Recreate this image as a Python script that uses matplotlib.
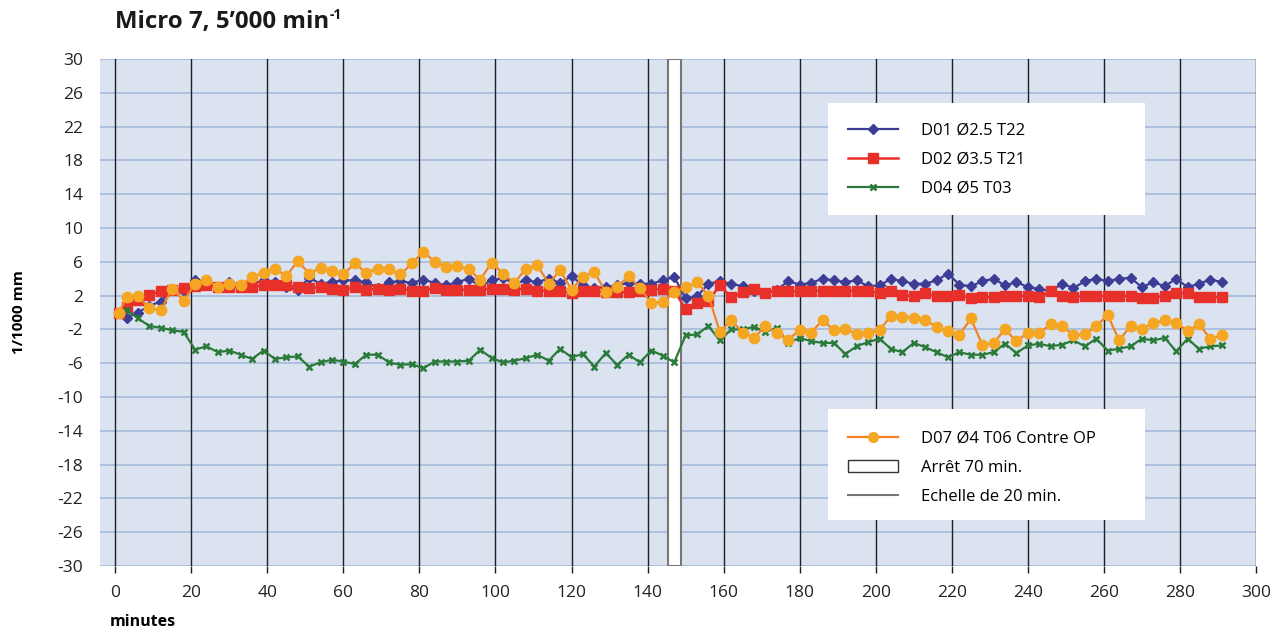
import matplotlib
matplotlib.use('Agg')
import matplotlib.pyplot as plt
from matplotlib.lines import Line2D
from matplotlib.patches import Rectangle

plt.rcParams['font.family'] = ['Open Sans', 'DejaVu Sans']
plt.rcParams['axes.unicode_minus'] = False

# temps de mesure (minutes)
minutes = [1] + list(range(3, 292, 3))

# valeurs (1/1000 mm)
d01 = [0.0, -0.6, 0.0, 0.8, 1.3, 2.7, 2.5, 3.9, 3.4, 3.0, 3.6, 3.0, 3.4, 3.8, 3.6, 3.0, 2.7, 4.1, 3.4, 3.6, 3.8, 3.8,
       3.6, 2.9, 3.6, 3.7, 3.5, 3.9, 3.5, 3.2, 3.6, 4.0, 3.1, 3.8, 4.1, 3.4, 3.8, 3.6, 4.0, 3.5, 4.3, 3.2, 2.9,
       3.0, 3.2, 3.5, 3.4, 3.4, 3.8, 4.2, 1.7, 1.9, 3.4, 3.7, 3.4, 3.1, 2.5, 2.3, 2.7, 3.7, 3.3, 3.5, 4.0, 3.8, 3.6,
       3.8, 3.1, 3.2, 4.0, 3.7, 3.4, 3.4, 3.8, 4.6, 3.3, 3.1, 3.7, 4.0, 3.2, 3.6, 3.0, 2.8, 2.5, 3.4,
       2.9, 3.7, 4.0, 3.7, 4.0, 4.1, 3.0, 3.6, 3.1, 4.0, 3.0, 3.4, 3.9, 3.6]
d02 = [0.0, 0.7, 1.5, 2.1, 2.5, 2.7, 2.9, 3.1, 3.2, 3.0, 3.0, 3.0, 3.0, 3.2, 3.2, 3.2, 3.0, 2.9, 3.0, 2.8, 2.7, 3.0,
       2.7, 2.8, 2.7, 2.8, 2.6, 2.6, 2.9, 2.7, 2.7, 2.7, 2.7, 2.8, 2.8, 2.7, 2.8, 2.6, 2.6, 2.6, 2.3, 2.5, 2.5,
       2.4, 2.4, 2.4, 2.6, 2.7, 2.8, 2.6, 0.4, 1.1, 1.4, 3.2, 1.8, 2.4, 2.8, 2.3, 2.6, 2.5, 2.5, 2.5, 2.6, 2.6, 2.6,
       2.5, 2.5, 2.3, 2.5, 2.1, 1.9, 2.3, 1.9, 2.0, 2.1, 1.7, 1.8, 1.8, 1.9, 2.0, 1.9, 1.8, 2.5, 2.0,
       1.8, 2.0, 2.0, 1.9, 1.9, 2.0, 1.7, 1.7, 2.0, 2.3, 2.3, 1.8, 1.8, 1.8]
d04 = [0.0, 0.3, -0.7, -1.6, -1.8, -2.1, -2.3, -4.4, -4.0, -4.7, -4.5, -5.0, -5.5, -4.5, -5.5, -5.3, -5.2, -6.4, -5.9, -5.6, -5.8, -6.1,
       -5.0, -5.0, -5.9, -6.2, -6.1, -6.6, -5.8, -5.8, -5.8, -5.7, -4.4, -5.4, -5.9, -5.7, -5.4, -5.0, -5.7, -4.3, -5.3, -4.9, -6.4,
       -4.8, -6.2, -5.0, -5.9, -4.5, -5.1, -5.9, -2.7, -2.6, -1.6, -3.3, -2.0, -2.0, -1.7, -2.3, -1.8, -3.6, -3.0, -3.4, -3.6, -3.6, -4.9,
       -4.0, -3.5, -3.1, -4.3, -4.7, -3.6, -4.1, -4.7, -5.3, -4.7, -5.0, -5.0, -4.7, -3.7, -4.8, -3.9, -3.7, -4.0, -3.8,
       -3.3, -4.0, -3.1, -4.5, -4.3, -4.0, -3.1, -3.3, -3.0, -4.6, -3.1, -4.3, -4.0, -3.9]
d07 = [0.0, 1.8, 1.9, 0.5, 0.3, 2.8, 1.4, 3.4, 3.9, 3.0, 3.4, 3.2, 4.2, 4.7, 5.2, 4.3, 6.1, 4.6, 5.3, 4.9, 4.5, 5.8,
       4.7, 5.2, 5.1, 4.5, 5.8, 7.2, 6.0, 5.4, 5.5, 5.1, 3.9, 5.9, 4.6, 3.5, 5.2, 5.6, 3.4, 5.0, 2.7, 4.2, 4.8,
       2.4, 3.0, 4.3, 2.9, 1.1, 1.3, 2.4, 3.0, 3.6, 2.0, -2.3, -0.9, -2.4, -3.0, -1.6, -2.4, -3.2, -2.1, -2.4, -0.9, -2.1, -2.0,
       -2.5, -2.4, -2.1, -0.4, -0.5, -0.6, -0.9, -1.7, -2.2, -2.7, -0.7, -3.8, -3.6, -2.0, -3.4, -2.4, -2.4, -1.4, -1.6,
       -2.7, -2.6, -1.6, -0.3, -3.3, -1.6, -1.9, -1.3, -0.9, -1.2, -2.2, -1.4, -3.1, -2.7]

labels = ['D01 Ø2.5 T22', 'D02 Ø3.5 T21', 'D04 Ø5 T03', 'D07 Ø4 T06 Contre OP']
arret = (145.5, 148.7)
x_ticks = list(range(0, 301, 20))
y_ticks = list(range(-30, 31, 4))

W, H = 1287, 635
fig = plt.figure(figsize=(W / 100, H / 100), dpi=100)
ax = fig.add_axes([100 / W, 69 / H, 1156 / W, 507 / H])
ax.set_facecolor('#dce3f0')
ax.set_xlim(-4, 300)
ax.set_ylim(-30, 30)

# grille
for y in y_ticks:
    ax.axhline(y, color='#a9bddb', lw=1.3, zorder=1)
for x in x_ticks:
    ax.axvline(x, color='#1e1e1e', lw=1, zorder=1.5)
ax.axvspan(arret[0], arret[1], facecolor='white', edgecolor='#777777', lw=1.5, zorder=1.6)

# séries
ax.plot(minutes, d01, color='#3d3d96', lw=1.6, marker='D', ms=4.8, zorder=3)
ax.plot(minutes, d02, color='#e8302a', lw=1.8, marker='s', ms=6.5, zorder=4)
ax.plot(minutes, d04, color='#2a7a3a', lw=1.6, marker='x', ms=5, mew=1.8, zorder=5)
ax.plot(minutes, d07, color='#f0822a', lw=1.6, marker='o', ms=7.5, mfc='#f5a623', mec='#f5a623', zorder=6)

for s in ax.spines.values():
    s.set_visible(False)
ax.set_xticks(x_ticks)
ax.set_yticks(y_ticks)
ax.tick_params(axis='x', length=5, width=1, color='#1e1e1e', pad=9, labelsize=12.5, labelcolor='#222222')
ax.tick_params(axis='y', length=0, pad=12, labelsize=12.5, labelcolor='#222222')

# textes
title = fig.text(115 / W, 1 - 22 / H, 'Micro 7, 5’000 min', fontsize=17.3, fontweight='bold',
                 va='center', color='#1a1a1a')
fig.canvas.draw()
bb = title.get_window_extent()
fig.text(bb.x1 / W + 1 / W, 1 - 15 / H, '-1', fontsize=10, fontweight='bold', va='center', color='#1a1a1a')
fig.text(19 / W, 1 - 312 / H, '1/1000 mm', rotation=90, fontsize=11, fontweight='bold', ha='center', va='center')
fig.text(110 / W, 1 - 622 / H, 'minutes', fontsize=11.5, fontweight='bold', ha='left', va='center')

# légendes (boîtes blanches)
def px_ax(px, py):
    return ((px - 100) / 1156, (566 - py) / 507)

for top, bottom in [(103, 215), (409, 520)]:
    x0, y0 = px_ax(828, bottom)
    x1, y1 = px_ax(1145, top)
    ax.add_patch(Rectangle((x0, y0), x1 - x0, y1 - y0, transform=ax.transAxes,
                           facecolor='white', edgecolor='none', zorder=10))

h1 = [Line2D([], [], color='#3d3d96', lw=1.6, marker='D', ms=5.5),
      Line2D([], [], color='#e8302a', lw=1.8, marker='s', ms=6.5),
      Line2D([], [], color='#2a7a3a', lw=1.6, marker='x', ms=5, mew=1.8)]
h2 = [Line2D([], [], color='#f0822a', lw=1.6, marker='o', ms=7, mfc='#f5a623', mec='#f5a623'),
      Rectangle((0, 0), 1, 1, facecolor='white', edgecolor='#333333', lw=1),
      Line2D([], [], color='#777777', lw=1.5)]

leg_kw = dict(loc='upper left', frameon=False, fontsize=12, borderpad=0, borderaxespad=0,
              handlelength=3.0, handletextpad=1.4, labelspacing=0.78)
leg1 = ax.legend(h1, labels[:3], bbox_to_anchor=px_ax(848, 123), **leg_kw)
leg1.set_zorder(11)
ax.add_artist(leg1)
leg2 = ax.legend(h2, [labels[3], 'Arrêt 70 min.', 'Echelle de 20 min.'],
                 bbox_to_anchor=px_ax(848, 431), **leg_kw)
leg2.set_zorder(11)

fig.savefig('out.png', dpi=100)
